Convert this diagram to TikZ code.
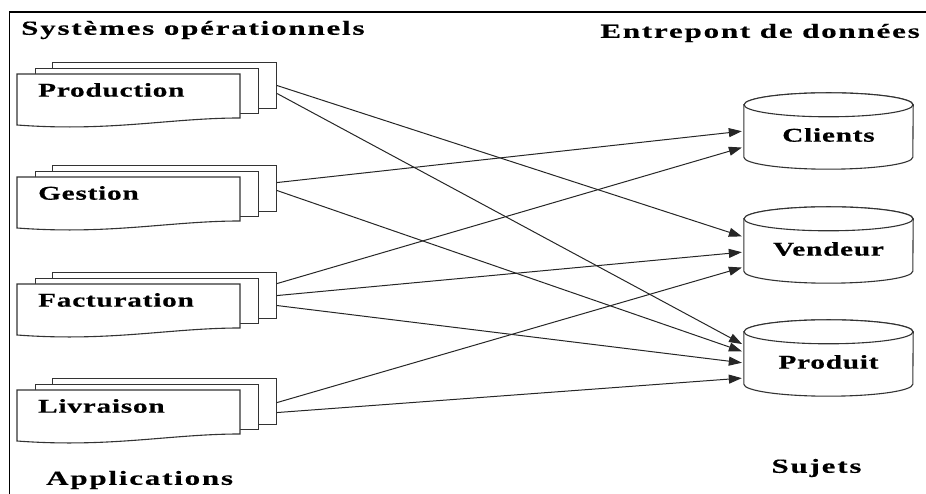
\documentclass[tikz,border=0pt]{standalone}
\usepackage{fontspec}
\setmainfont{Liberation Serif}[FakeStretch=1.5,LetterSpace=4,BoldFeatures={FakeBold=0.6}]
\newfontfamily\headfont{Liberation Serif}[FakeStretch=1.55,LetterSpace=9,BoldFeatures={FakeBold=0.4}]
\usetikzlibrary{arrows.meta}

\begin{document}
\begin{tikzpicture}[x=1pt,y=1pt,
  lbl/.style={font=\bfseries\fontsize{19.5}{19.5}\selectfont, inner sep=0pt},
  title/.style={font=\headfont\bfseries\fontsize{20}{20}\selectfont, inner sep=0pt},
  sheet/.style={draw=black!80, line width=1.1pt, fill=white},
  dbline/.style={draw=black!80, line width=1.1pt, fill=white},
  dbbody/.style={minimum width=169pt, minimum height=52pt, inner sep=0pt},
  flow/.style={draw=black!85, line width=1pt, -{Triangle[length=13pt,width=9pt]}, shorten >=2pt},
  % stack of three sheets with a wavy front page
  pics/docstack/.style={code={
    \node[sheet, minimum width=224pt, minimum height=46pt, anchor=north west, inner sep=0pt] (-back) at (0,0) {};
    \node[sheet, minimum width=223pt, minimum height=45pt, anchor=north west, inner sep=0pt] (-mid) at (-17,-6) {};
    \draw[sheet] (-35,-12) -- (188,-12) -- (188,-56)
      .. controls (118,-56) and (58,-70) .. (-35,-63) -- cycle;
    \node[lbl, anchor=west] (-text) at (-14,-28) {#1};
  }},
  % database cylinder
  pics/dbcyl/.style={code={
    \node[dbbody] (-body) at (0,0) {};
    \draw[dbline] (-body.north west) -- (-body.south west)
      arc[start angle=180, end angle=360, x radius=84.5, y radius=12]
      -- (-body.north east)
      arc[start angle=0, end angle=180, x radius=84.5, y radius=12] -- cycle;
    \draw[dbline] (-body.north) ellipse[x radius=84.5, y radius=12];
    \node[lbl] (-text) at (0,-4) {#1};
  }}
]
\useasboundingbox (0,0) rectangle (926,494);

% frame
\draw[line width=1.5pt] (9.5,0) -- (9.5,482) -- (926,482);

% headings
\node[title, anchor=west] (sysop) at (21,464) {Systèmes opérationnels};
\node[title, anchor=east] (entre) at (920,461) {Entrepont de données};
\node[title, anchor=west] (apps) at (46,14) {Applications};
\node[title] (suj) at (816.5,26) {Sujets};

% applications
\pic (prod) at (52,432) {docstack=Production};
\pic (ges)  at (52,329) {docstack=Gestion};
\pic (fac)  at (52,222) {docstack=Facturation};
\pic (liv)  at (52,116) {docstack=Livraison};

% subjects
\pic (cli) at (828.5,363) {dbcyl=Clients};
\pic (ven) at (828.5,249) {dbcyl=Vendeur};
\pic (pro) at (828.5,136) {dbcyl=Produit};

% flows
\draw[flow] (prod-back.east) -- ([yshift=8pt]ven-body.west);
\draw[flow] ([yshift=-8pt]prod-back.east) -- ([yshift=13pt]pro-body.west);
\draw[flow] ([yshift=6pt]ges-back.east) -- (cli-body.west);
\draw[flow] ([yshift=-2pt]ges-back.east) -- ([yshift=6pt]pro-body.west);
\draw[flow] ([yshift=12pt]fac-back.east) -- ([yshift=-16pt]cli-body.west);
\draw[flow] (fac-back.east) -- ([yshift=-7pt]ven-body.west);
\draw[flow] ([yshift=-10pt]fac-back.east) -- ([yshift=-5pt]pro-body.west);
\draw[flow] ([yshift=-1pt]liv-back.east) -- ([yshift=-22pt]ven-body.west);
\draw[flow] ([yshift=-11pt]liv-back.east) -- ([yshift=-20pt]pro-body.west);
\end{tikzpicture}
\end{document}
